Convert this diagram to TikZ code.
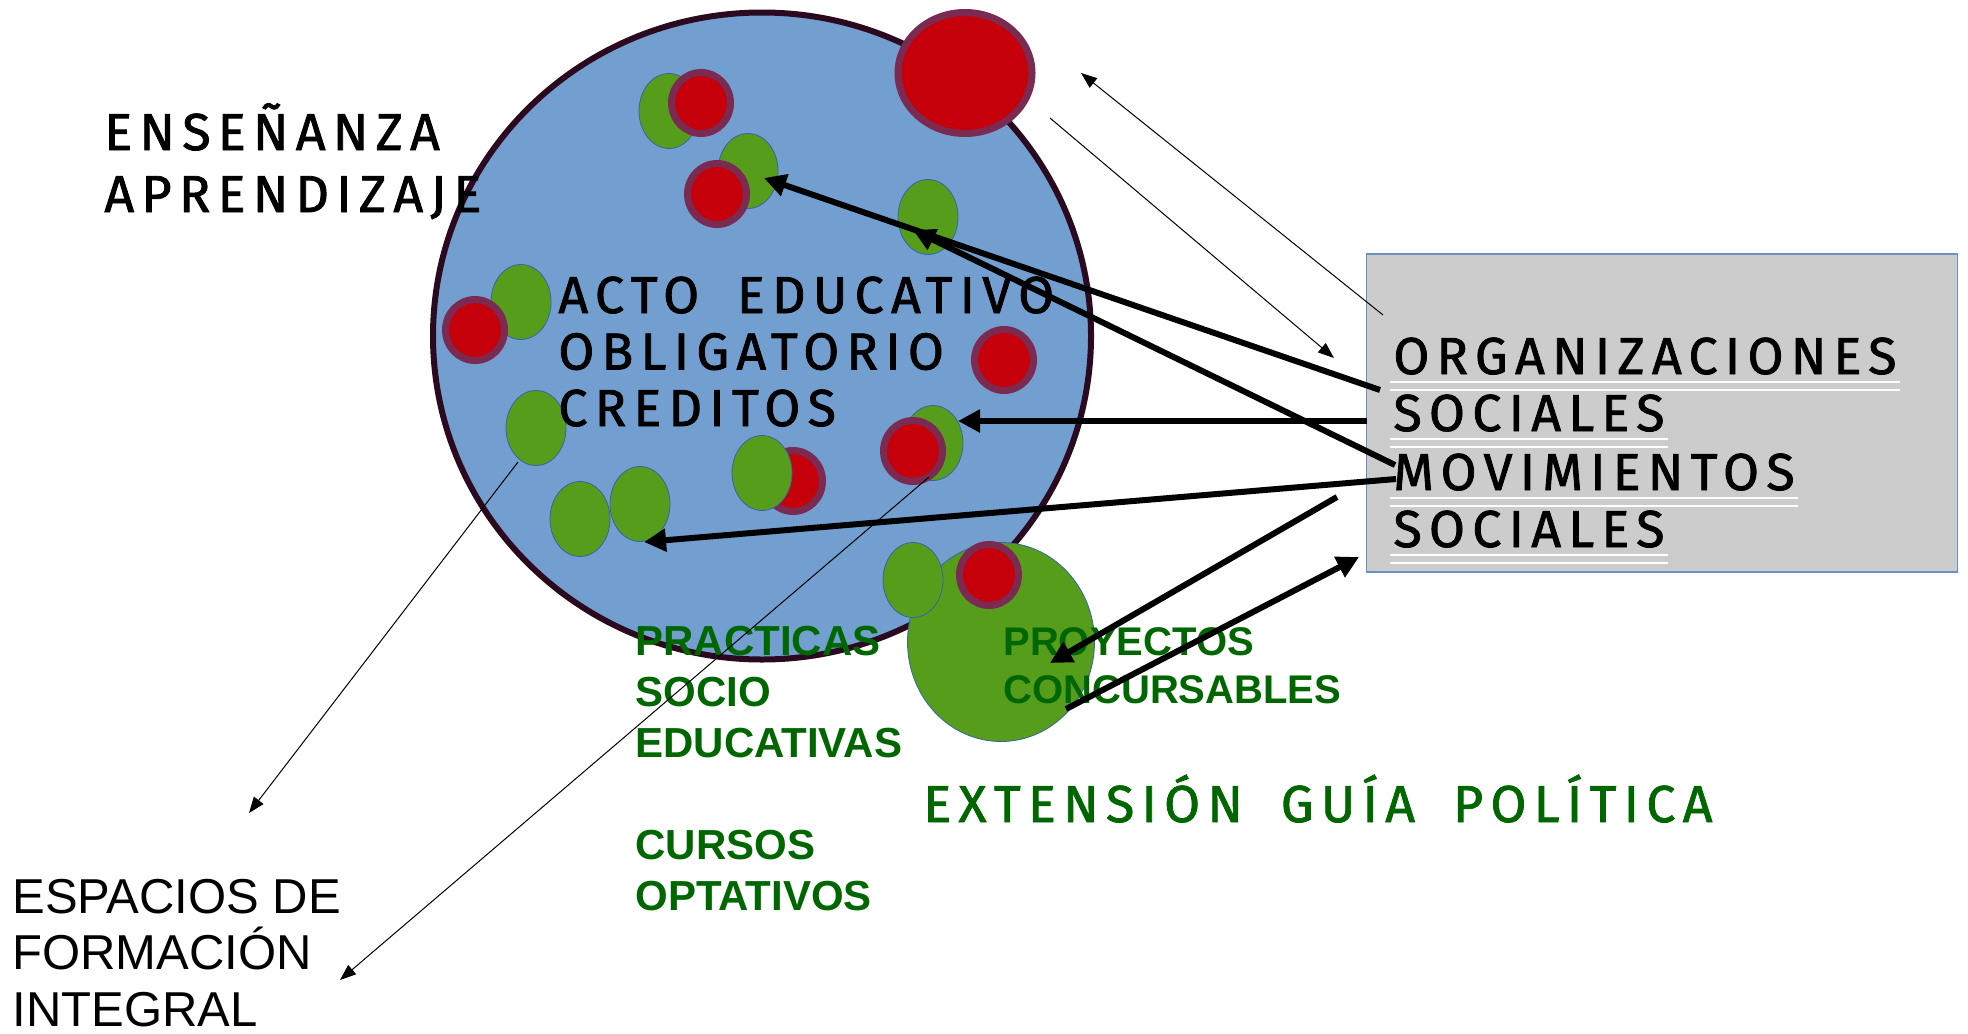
\documentclass[tikz,border=0pt]{standalone}
\usepackage{fontspec}
\setmainfont{Liberation Sans}
\newfontfamily\handfont[LetterSpace=14,WordSpace=1.8,FakeBold=1.5]{Fira Sans}
\usetikzlibrary{shapes.geometric,arrows.meta}

\definecolor{cellblue}{HTML}{729FCF}
\definecolor{cellrim}{HTML}{2B0A1F}
\definecolor{dotred}{HTML}{C5000B}
\definecolor{dotrim}{HTML}{7B2A52}
\definecolor{dotgreen}{HTML}{579D1C}
\definecolor{dotline}{HTML}{3465A4}
\definecolor{textgreen}{HTML}{006600}
\definecolor{boxgray}{HTML}{CCCCCC}
\definecolor{boxline}{HTML}{6A8FC4}

\tikzstyle{cell}=[ellipse,draw=cellrim,line width=3pt,fill=cellblue,minimum width=329pt,minimum height=323.5pt,inner sep=0pt]
\tikzstyle{gdot}=[ellipse,draw=dotline,line width=0.4pt,fill=dotgreen,minimum width=30pt,minimum height=37.5pt,inner sep=0pt]
\tikzstyle{rdot}=[ellipse,draw=dotrim,line width=3.5pt,fill=dotred,minimum width=29.5pt,minimum height=30.5pt,inner sep=0pt]
\tikzstyle{bigred}=[rdot,minimum width=67pt,minimum height=60.5pt]
\tikzstyle{biggreen}=[gdot,minimum width=93.5pt,minimum height=99.5pt]
\tikzstyle{orgbox}=[draw=boxline,line width=0.6pt,fill=boxgray,minimum width=295.5pt,minimum height=159pt,inner sep=0pt]
\tikzstyle{hand}=[font=\handfont\fontsize{26pt}{28.5pt}\selectfont,inner sep=0pt,anchor=base west,align=left]
\tikzstyle{uline}=[draw=white,line width=1pt]
\tikzstyle{greenlab}=[font=\bfseries\fontsize{21pt}{25.5pt}\selectfont,text=textgreen,inner sep=0pt,anchor=base west,align=left]
\tikzstyle{thickarrow}=[draw,line width=3pt,-{Triangle[length=11pt,width=11pt]}]
\tikzstyle{thinarrow}=[draw,line width=0.5pt,-{Triangle[length=8pt,width=6pt]}]

\begin{document}
\begin{tikzpicture}[x=0.5pt,y=-0.5pt]
    \useasboundingbox (0,0) rectangle (1968,1033);
    % First we draw the big cell and the dots in it
    \node[cell] (acto) at (762,336) {};
    \node[bigred] (rtop) at (965,73) {};
    \node[biggreen] (gproy) at (1001,642) {};
    \foreach \pos/\name in {{(669,111)/g1}, {(748,171)/g2}, {(928,217)/g3}, {(521,302)/g4}, {(536,428)/g6},
                            {(933,443)/g7}, {(580,519)/g9}, {(640,504)/g10}, {(913,580)/g11}}
        \node[gdot] (\name) at \pos {};
    \foreach \pos/\name in {{(701,103)/r1}, {(717,194)/r2}, {(475,330)/r4}, {(1004,360)/r5},
                            {(913,451)/r7}, {(793,481)/r8}, {(989,575)/r11}}
        \node[rdot] (\name) at \pos {};
    \node[gdot] (g8) at (762,473) {};

    % The box on the right
    \node[orgbox] (orgs) at (1662,413) {};
    \node[hand] (org1) at (1393,374) {ORGANIZACIONES};
    \node[hand] (org2) at (1393,431) {SOCIALES};
    \node[hand] (mov1) at (1393,490) {MOVIMIENTOS};
    \node[hand] (mov2) at (1393,547) {SOCIALES};
    \foreach \name in {org1,org2,mov1,mov2} {
        \path[uline] ([shift={(-3,8)}]\name.base west) -- ([shift={(3,8)}]\name.base east);
        \path[uline] ([shift={(-3,16)}]\name.base west) -- ([shift={(3,16)}]\name.base east);
    }

    % Texts (multi-line nodes sit on the base line of their last line)
    \node[hand,font=\handfont\fontsize{26pt}{31pt}\selectfont] (ensen) at (104,212) {ENSEÑANZA\\APRENDIZAJE};
    \node[hand,font=\handfont\fontsize{26pt}{28.25pt}\selectfont] (actotxt) at (558,426) {ACTO EDUCATIVO\\OBLIGATORIO\\CREDITOS};
    \node[hand,text=textgreen] (guia) at (923,822) {EXTENSIÓN GUÍA POLÍTICA};
    \node[greenlab] (practicas) at (635,757) {PRACTICAS\\SOCIO\\EDUCATIVAS};
    \node[greenlab] (cursos) at (635,910) {CURSOS\\OPTATIVOS};
    \node[greenlab,font=\bfseries\fontsize{20pt}{24pt}\selectfont] (proyectos) at (1003,703) {PROYECTOS\\CONCURSABLES};
    \node[inner sep=0pt,anchor=base west,align=left,font=\fontsize{24.5pt}{28.25pt}\selectfont] (espacios) at (12,1026) {ESPACIOS DE\\FORMACIÓN\\INTEGRAL};

    % Ends of the connectors
    \coordinate (outA) at (1380,390);  \coordinate (tipA) at (764,178);
    \coordinate (outB) at (1395,465);  \coordinate (tipB) at (913,230);
    \coordinate (outC) at (1367,421);  \coordinate (tipC) at (958,421);
    \coordinate (outD) at (1396,479);  \coordinate (tipD) at (644,542);
    \coordinate (outE) at (1337,497);  \coordinate (tipE) at (1050,663);
    \coordinate (outF) at (1066,709);  \coordinate (tipF) at (1359,557);
    \coordinate (outG) at (1383,315);  \coordinate (tipG) at (1081,73);
    \coordinate (outH) at (1050,118);  \coordinate (tipH) at (1334,358);
    \coordinate (outI) at (518,462);   \coordinate (tipI) at (249,813);
    \coordinate (outJ) at (929,477);   \coordinate (tipJ) at (340,980);
    % Connect them
    \path[thickarrow] (outA) -- (tipA);
    \path[thickarrow] (outB) -- (tipB);
    \path[thickarrow] (outC) -- (tipC);
    \path[thickarrow] (outD) -- (tipD);
    \path[thickarrow] (outE) -- (tipE);
    \path[thickarrow] (outF) -- (tipF);
    \path[thinarrow] (outG) -- (tipG);
    \path[thinarrow] (outH) -- (tipH);
    \path[thinarrow] (outI) -- (tipI);
    \path[thinarrow] (outJ) -- (tipJ);
\end{tikzpicture}
\end{document}
